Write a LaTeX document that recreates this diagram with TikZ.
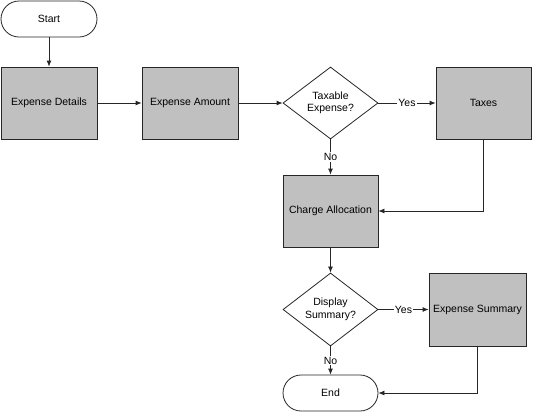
\documentclass[tikz,border=0pt]{standalone}
\usepackage{fontspec}
\setmainfont{Liberation Sans}
\usetikzlibrary{shapes.geometric,arrows.meta}
\definecolor{boxgray}{RGB}{192,192,192}
\tikzset{
  every node/.style={font=\fontsize{10.5}{12.5}\selectfont},
  proc/.style={draw=black!85, fill=boxgray, line width=0.8pt, minimum width=96pt, minimum height=72pt, inner sep=0pt},
  term/.style={draw=black!85, fill=white, line width=0.8pt, rounded corners=18pt, minimum width=96pt, minimum height=36pt, inner sep=0pt},
  decide/.style={diamond, draw=black!85, fill=white, line width=0.8pt, minimum width=95pt, minimum height=72pt, inner sep=0pt, align=center},
  flow/.style={-{Latex[length=6pt,width=5pt]}, line width=0.8pt, black!85},
  lab/.style={fill=white, inner sep=1pt, text=black}
}
\begin{document}
\begin{tikzpicture}[x=1pt,y=-1pt]
    \useasboundingbox (0,0) rectangle (536,416);
    % nodes
    \node[term] (start) at (49,19) {Start};
    \node[proc] (details) at (49,103) {Expense Details};
    \node[proc] (amount) at (190,103) {Expense Amount};
    \node[decide] (taxable) at (330.5,103) {Taxable\\Expense?};
    \node[proc, minimum width=95pt] (taxes) at (483.5,103) {Taxes};
    \node[proc, minimum width=95pt] (alloc) at (330.5,211) {Charge Allocation};
    \node[decide, minimum height=73pt] (display) at (330.5,309.5) {Display\\Summary?};
    \node[proc, minimum height=73pt, minimum width=97pt] (summary) at (477.5,309.5) {Expense Summary};
    \node[term, minimum width=95pt] (stop) at (330.5,393) {End};
    % connectors
    \draw[flow] (start) -- (details);
    \draw[flow] (details) -- (amount);
    \draw[flow] (amount) -- (taxable);
    \draw[flow] (taxable) -- node[lab] {Yes} (taxes);
    \draw[flow] (taxable) -- node[lab] {No} (alloc);
    \draw[flow] (taxes.south) |- (alloc.east);
    \draw[flow] (alloc) -- (display);
    \draw[flow] (display) -- node[lab] {Yes} (summary);
    \draw[flow] (display) -- node[lab] {No} (stop);
    \draw[flow] (summary.south) |- (stop.east);
\end{tikzpicture}
\end{document}
